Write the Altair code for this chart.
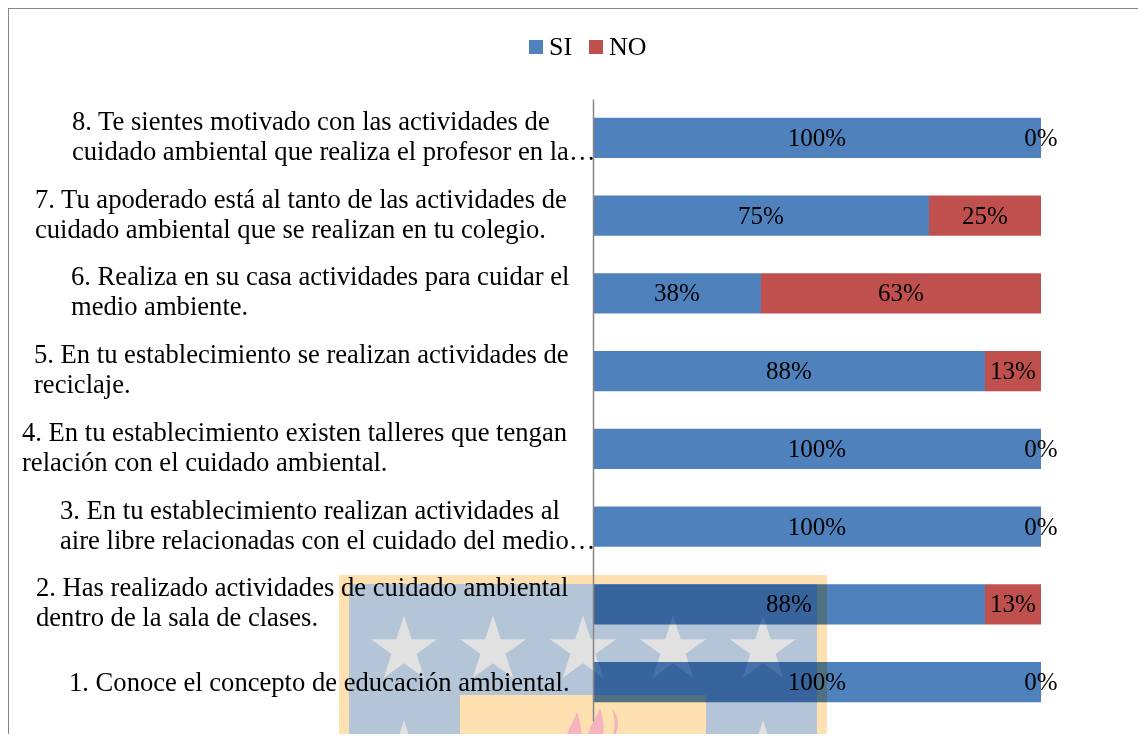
import altair as alt
import pandas as pd

labels = [
    "8. Te sientes motivado con las actividades de\ncuidado ambiental que realiza el profesor en la…",
    "7. Tu apoderado está al tanto de las actividades de\ncuidado ambiental que se realizan en tu colegio.",
    "6. Realiza en su casa actividades para cuidar el\nmedio ambiente.",
    "5. En tu establecimiento se realizan actividades de\nreciclaje.",
    "4. En tu establecimiento existen talleres que tengan\nrelación con el cuidado ambiental.",
    "3. En tu establecimiento realizan actividades al\naire libre relacionadas con el cuidado del medio…",
    "2. Has realizado actividades de cuidado ambiental\ndentro de la sala de clases.",
    "1. Conoce el concepto de educación ambiental.",
]
cats = [l.split(".")[0] for l in labels]
si_values = [100, 75, 37.5, 87.5, 100, 100, 87.5, 100]
no_values = [0, 25, 62.5, 12.5, 0, 0, 12.5, 0]

# layout of the left-aligned category text blocks (px from page left)
label_left = [72, 35, 71, 34, 22, 60, 36, 69]

PLOT_L, PLOT_T = 593, 99
W, H = 448, 622
FONT = "Liberation Serif"
BLUE, RED = "#4F81BD", "#C0504D"
GRAY = "#868686"

rows = []
for c, s, n in zip(cats, si_values, no_values):
    rows.append(dict(cat=c, serie="SI", start=0, end=s / 100, mid=s / 200, val=s / 100))
    rows.append(dict(cat=c, serie="NO", start=s / 100, end=(s + n) / 100, mid=(s + n / 2) / 100, val=n / 100))
df = pd.DataFrame(rows)

xs = alt.Scale(domain=[0, 1], nice=False, zero=False)
ys = alt.Scale(domain=cats, paddingInner=0.485, paddingOuter=0.2425)
col = alt.Scale(domain=["SI", "NO"], range=[BLUE, RED])


def px(v):
    return alt.value(v - PLOT_L)


def py(v):
    return alt.value(v - PLOT_T)


def box(x0, x1, y0, y1, color):
    return alt.Chart(pd.DataFrame({"a": [0]})).mark_rect(color=color, opacity=1).encode(
        x=px(x0), x2=px(x1), y=py(y0), y2=py(y1)
    )


STAR = "M0,-1L0.2245,-0.309L0.951,-0.309L0.363,0.118L0.588,0.809L0,0.382L-0.588,0.809L-0.363,0.118L-0.951,-0.309L-0.2245,-0.309Z"
FLAME = (
    "M-0.17,-0.81C-0.1,-0.6 -0.05,-0.35 -0.05,-0.1L-0.45,0C-0.45,-0.3 -0.25,-0.6 -0.17,-0.81Z"
    "M0.32,-0.89C0.4,-0.7 0.42,-0.4 0.35,-0.1L0,0C0,-0.4 0.2,-0.6 0.32,-0.89Z"
    "M0.57,-0.89C0.75,-0.7 0.75,-0.4 0.55,-0.2C0.65,-0.4 0.65,-0.7 0.57,-0.89Z"
)

star_x = [404, 493, 583, 673, 763, 404, 763]
star_y = [650, 650, 650, 650, 650, 755, 755]
stars = alt.Chart(pd.DataFrame({"x": [v - PLOT_L for v in star_x], "y": [v - PLOT_T for v in star_y]})).mark_point(
    shape=STAR, filled=True, color="#E1E1E1", size=4800, opacity=1, strokeWidth=0
).encode(x=alt.X("x:Q", scale=None), y=alt.Y("y:Q", scale=None))

flame = alt.Chart(pd.DataFrame({"a": [0]})).mark_point(
    shape=FLAME, filled=True, color="#F6B5BE", size=8836, opacity=1, strokeWidth=0
).encode(x=px(585), y=py(750))

watermark = [
    box(339, 827, 575, 760, "#FFE0B0"),
    box(349, 817, 584, 760, "#B3C5D6"),
    stars,
    box(460, 706, 695, 760, "#FFE0B0"),
    flame,
]

frame_l = alt.Chart(pd.DataFrame({"a": [0]})).mark_rule(color=GRAY, strokeWidth=1).encode(
    x=px(8.5), y=py(8), y2=py(742)
)
frame_t = alt.Chart(pd.DataFrame({"a": [0]})).mark_rule(color=GRAY, strokeWidth=1).encode(
    y=py(8.5), x=px(8), x2=px(1146)
)

bars = alt.Chart(df).mark_bar(blend="multiply", opacity=1).encode(
    x=alt.X("start:Q", scale=xs, axis=None),
    x2="end:Q",
    y=alt.Y(
        "cat:N", scale=ys, sort=cats,
        axis=alt.Axis(title=None, labels=False, ticks=False, grid=False,
                      domainColor=GRAY, domainWidth=1.5, zindex=1),
    ),
    color=alt.Color(
        "serie:N", scale=col,
        legend=alt.Legend(
            title=None, orient="none", legendX=523 - PLOT_L, legendY=34 - PLOT_T,
            direction="horizontal", symbolType="square", symbolSize=196,
            symbolStrokeWidth=0, symbolOpacity=1, labelFont=FONT, labelFontSize=26, labelColor="#000000",
            labelOffset=0, columnPadding=10, padding=0, labelLimit=200,
        ),
    ),
)

vals = alt.Chart(df).mark_text(font=FONT, fontSize=25, color="#000000").encode(
    x=alt.X("mid:Q", scale=xs, axis=None),
    y=alt.Y("cat:N", scale=ys, sort=cats),
    text=alt.Text("val:Q", format=".0%"),
)

cat_df = pd.DataFrame({"cat": cats, "label": labels, "left": [v - PLOT_L for v in label_left]})
cat_df["multi"] = cat_df["label"].str.contains("\n")


def cat_layer(sub, dy):
    return alt.Chart(sub).mark_text(
        font=FONT, fontSize=26.6, color="#000000", align="left", baseline="middle",
        lineBreak="\n", lineHeight=30, dy=dy
    ).encode(
        x=alt.X("left:Q", scale=None, axis=None),
        y=alt.Y("cat:N", scale=ys, sort=cats),
        text="label:N",
    )


cat_multi = cat_layer(cat_df[cat_df["multi"]], -16)
cat_single = cat_layer(cat_df[~cat_df["multi"]], 1)

chart = alt.layer(*watermark, frame_l, frame_t, bars, vals, cat_multi, cat_single).resolve_scale(
    x="independent"
).properties(
    width=W,
    height=H,
    padding={"left": PLOT_L - 8, "top": PLOT_T - 8, "right": 1130 - (PLOT_L - 8) - W, "bottom": 726 - (PLOT_T - 8) - H},
    autosize=alt.AutoSizeParams(type="none"),
    background="#FFFFFF",
).configure_view(stroke=None)

chart.save("out.html", embed_options={"renderer": "svg", "actions": False})
